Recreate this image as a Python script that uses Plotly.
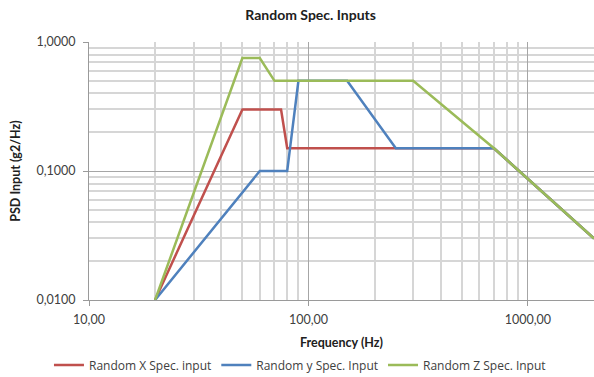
import plotly.graph_objects as go

# Random vibration PSD input profiles (frequency in Hz, PSD in g2/Hz)
freq_x = [20, 50, 75, 80, 700, 2000]
psd_x = [0.01, 0.3, 0.3, 0.15, 0.15, 0.03]

freq_y = [20, 60, 80, 90, 150, 250, 700, 2000]
psd_y = [0.01, 0.1, 0.1, 0.5, 0.5, 0.15, 0.15, 0.03]

freq_z = [20, 50, 60, 70, 300, 700, 2000]
psd_z = [0.01, 0.75, 0.75, 0.5, 0.5, 0.15, 0.03]

series_names = ["Random X Spec. input", "Random y Spec. Input", "Random Z Spec. Input"]
series_colors = ["#c0504d", "#4f81bd", "#9bbb59"]

x_tick_vals = [10, 100, 1000]
x_tick_text = ["10,00", "100,00", "1000,00"]
y_tick_vals = [0.01, 0.1, 1]
y_tick_text = ["0,0100", "0,1000", "1,0000"]

x_minor = [m * d for d in (10, 100, 1000) for m in range(2, 10)] + [2000]
y_minor = [m * d for d in (0.01, 0.1) for m in range(2, 10)]

FONT = "Lato, 'Open Sans', sans-serif"
LEGEND_FONT = "'Open Sans', Lato, sans-serif"

fig = go.Figure()
for fx, py, name, color in zip([freq_x, freq_y, freq_z], [psd_x, psd_y, psd_z],
                               series_names, series_colors):
    fig.add_trace(go.Scatter(x=fx, y=py, mode="lines", name=name,
                             line=dict(color=color, width=2.5)))

axis_common = dict(
    showline=True, linecolor="#9a9a9a", linewidth=1,
    showgrid=True, gridcolor="#a6a6a6", gridwidth=1,
    ticks="outside", ticklen=5, tickcolor="#9a9a9a",
    tickfont=dict(family=FONT, size=12.5, color="#404040"),
    zeroline=False,
)

fig.update_xaxes(
    type="log", range=[1, 3.301],
    tickmode="array", tickvals=x_tick_vals, ticktext=x_tick_text,
    ticklabelstandoff=3,
    minor=dict(tickmode="array", tickvals=x_minor, showgrid=True,
               gridcolor="#d6d6d6", gridwidth=1.5, ticks=""),
    title=dict(text="<b>Frequency (Hz)</b>", standoff=15,
               font=dict(family=FONT, size=12.5, color="#202020")),
    **axis_common,
)
fig.update_yaxes(
    type="log", range=[-2, 0],
    tickmode="array", tickvals=y_tick_vals, ticktext=y_tick_text,
    ticklabelstandoff=5,
    minor=dict(tickmode="array", tickvals=y_minor, showgrid=True,
               gridcolor="#d6d6d6", gridwidth=1.5, ticks=""),
    title=dict(text="<b>PSD Input (g2/Hz)</b>", standoff=13,
               font=dict(family=FONT, size=12.5, color="#202020")),
    **axis_common,
)

fig.update_layout(
    width=594, height=377,
    margin=dict(l=89, r=0, t=42, b=77),
    paper_bgcolor="white", plot_bgcolor="white",
    title=dict(text="<b>Random Spec. Inputs</b>", x=0.523, xanchor="center",
               y=0.96, yanchor="middle",
               font=dict(family=FONT, size=14, color="#202020")),
    legend=dict(orientation="h", xref="container", x=0.505, xanchor="center",
                yref="container", y=0.032, yanchor="middle",
                font=dict(family=LEGEND_FONT, size=12, color="#404040"),
                itemwidth=30, tracegroupgap=0),
    showlegend=True,
)

fig.write_html("out.html")
